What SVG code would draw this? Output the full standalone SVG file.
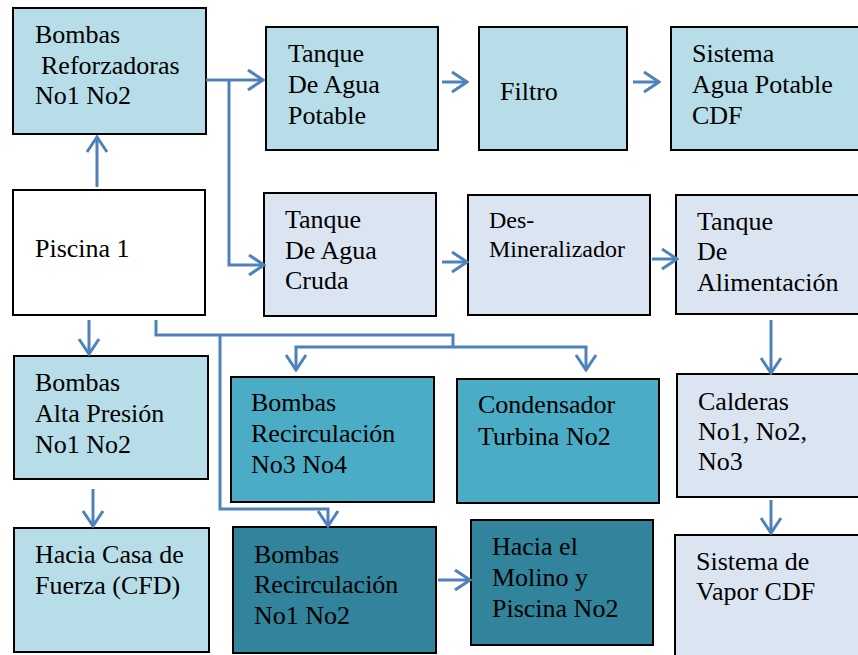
<svg xmlns="http://www.w3.org/2000/svg" width="858" height="655" viewBox="0 0 858 655">
<defs>
<style>
.b{stroke:#000;stroke-width:2}
.c1{fill:#b7dde8}.c2{fill:#dbe5f1}.c3{fill:#4bacc6}.c4{fill:#31849b}.cw{fill:#fff}
.t text{font-size:26px;fill:#000}
.t .sm{font-size:24px}
.ln{fill:none;stroke:#4f81bd;stroke-width:3}
</style>
<marker id="arr" markerUnits="userSpaceOnUse" viewBox="-18 -12 20 24" refX="0" refY="0" markerWidth="20" markerHeight="24" orient="auto">
<path d="M-15,-10 L0,0 L-15,10" fill="none" stroke="#4f81bd" stroke-width="3"/>
</marker>
</defs>
<rect width="858" height="655" fill="#fff"/>
<g class="t" font-family="'Liberation Serif', 'Times New Roman', Times, serif">
<g id="n-reforzadoras"><rect class="b c1" x="13" y="8" width="193" height="126"/>
<text x="35" y="43">Bombas</text><text x="41" y="74">Reforzadoras</text><text x="35" y="104">No1 No2</text></g>

<g id="n-tanque-potable"><rect class="b c1" x="266" y="27" width="172" height="123"/>
<text x="288" y="62">Tanque</text><text x="288" y="93">De Agua</text><text x="288" y="124">Potable</text></g>

<g id="n-filtro"><rect class="b c1" x="479" y="27" width="148" height="123"/>
<text x="500" y="100">Filtro</text></g>

<g id="n-sistema-agua"><rect class="b c1" x="671" y="27" width="200" height="123"/>
<text x="692" y="62">Sistema</text><text x="692" y="93">Agua Potable</text><text x="692" y="124">CDF</text></g>

<g id="n-piscina"><rect class="b cw" x="13" y="190" width="192" height="125"/>
<text x="35" y="257">Piscina 1</text></g>

<g id="n-tanque-cruda"><rect class="b c2" x="264" y="193" width="172" height="123"/>
<text x="285" y="228">Tanque</text><text x="285" y="259">De Agua</text><text x="285" y="289">Cruda</text></g>

<g id="n-desmineralizador"><rect class="b c2" x="468" y="195" width="182" height="120"/>
<text class="sm" x="489" y="228">Des-</text><text class="sm" x="489" y="257">Mineralizador</text></g>

<g id="n-tanque-alim"><rect class="b c2" x="676" y="195" width="195" height="119"/>
<text x="697" y="230">Tanque</text><text x="697" y="260">De</text><text x="697" y="291">Alimentación</text></g>

<g id="n-alta-presion"><rect class="b c1" x="14" y="356" width="194" height="123"/>
<text x="35" y="391">Bombas</text><text x="35" y="422">Alta Presión</text><text x="35" y="453">No1 No2</text></g>

<g id="n-recirc34"><rect class="b c3" x="231" y="377" width="203" height="125"/>
<text x="251" y="411">Bombas</text><text x="251" y="442">Recirculación</text><text x="251" y="473">No3 No4</text></g>

<g id="n-condensador"><rect class="b c3" x="457" y="379" width="202" height="124"/>
<text x="478" y="413">Condensador</text><text x="478" y="445">Turbina No2</text></g>

<g id="n-calderas"><rect class="b c2" x="677" y="374" width="194" height="123"/>
<text x="698" y="410">Calderas</text><text x="698" y="440">No1, No2,</text><text x="698" y="470">No3</text></g>

<g id="n-vapor"><rect class="b c2" x="675" y="535" width="196" height="130"/>
<text x="696" y="570">Sistema de</text><text x="696" y="600">Vapor CDF</text></g>

<g id="n-casa-fuerza"><rect class="b c1" x="14" y="528" width="195" height="124"/>
<text x="35" y="563">Hacia Casa de</text><text x="35" y="594">Fuerza (CFD)</text></g>

<g id="n-recirc12"><rect class="b c4" x="233" y="527" width="203" height="126"/>
<text x="254" y="563">Bombas</text><text x="254" y="593">Recirculación</text><text x="254" y="624">No1 No2</text></g>

<g id="n-molino"><rect class="b c4" x="471" y="520" width="182" height="125"/>
<text x="492" y="555">Hacia el</text><text x="492" y="586">Molino y</text><text x="492" y="617">Piscina No2</text></g>
</g>
<g id="connectors">
<path class="ln" d="M97,187 V137" marker-end="url(#arr)"/>
<path class="ln" d="M206,80 H263" marker-end="url(#arr)"/>
<path class="ln" d="M229,80 V265 H264" marker-end="url(#arr)"/>
<path class="ln" d="M442,82 H467" marker-end="url(#arr)"/>
<path class="ln" d="M633,82 H659" marker-end="url(#arr)"/>
<path class="ln" d="M442,262 H467" marker-end="url(#arr)"/>
<path class="ln" d="M652,259 H677" marker-end="url(#arr)"/>
<path class="ln" d="M771,320 V373" marker-end="url(#arr)"/>
<path class="ln" d="M771,500 V533" marker-end="url(#arr)"/>
<path class="ln" d="M89,320 V354" marker-end="url(#arr)"/>
<path class="ln" d="M93,489 V526" marker-end="url(#arr)"/>
<path class="ln" d="M438,580 H470" marker-end="url(#arr)"/>
<path class="ln" d="M156,320 V335 H453 V347"/>
<path class="ln" d="M453,347 H296 V370" marker-end="url(#arr)"/>
<path class="ln" d="M453,347 H586 V370" marker-end="url(#arr)"/>
<path class="ln" d="M220,335 V509 H328 V526" marker-end="url(#arr)"/>
</g>
</svg>
